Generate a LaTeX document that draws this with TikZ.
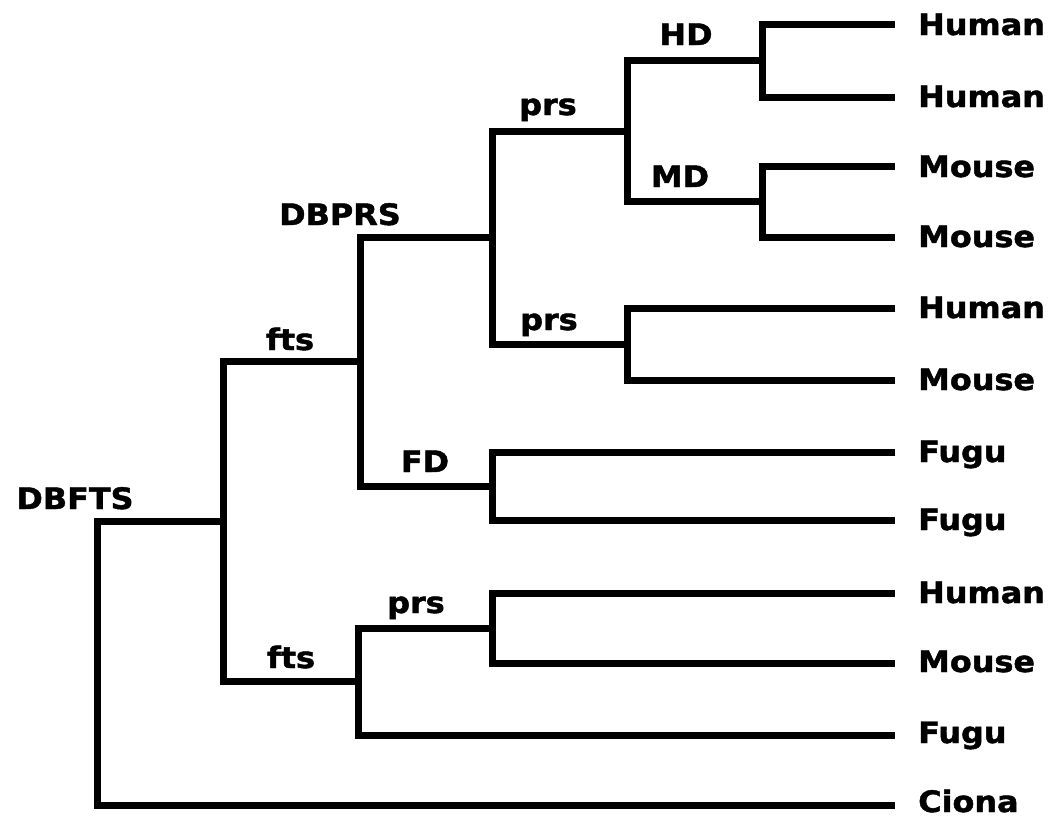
\documentclass[tikz,border=0pt]{standalone}
\usepackage{fontspec}
\setmainfont{DejaVu Sans}[BoldFeatures={FakeBold=1.5}]
\newcommand{\widetxt}[1]{\scalebox{1.08}[1]{#1}}
\begin{document}
\begin{tikzpicture}[x=1pt,y=-1pt,
  branch/.style={line width=7pt, line join=miter, line cap=butt},
  lbl/.style={inner sep=0pt, anchor=base, font=\bfseries\fontsize{29.5}{29.5}\selectfont},
  leaf/.style={inner sep=0pt, anchor=base west, font=\bfseries\fontsize{29.5}{29.5}\selectfont}]
\useasboundingbox (0,0) rectangle (1057,822);
% leaf ends
\coordinate (l1) at (895,24);
\coordinate (l2) at (895,97);
\coordinate (l3) at (895,166);
\coordinate (l4) at (895,237);
\coordinate (l5) at (895,308);
\coordinate (l6) at (895,380);
\coordinate (l7) at (895,452);
\coordinate (l8) at (895,520);
\coordinate (l9) at (895,593);
\coordinate (l10) at (895,663);
\coordinate (l11) at (895,735);
\coordinate (l12) at (895,805);
% internal nodes
\coordinate (hd) at (762,60.5);
\coordinate (md) at (762,201.5);
\coordinate (q) at (627,131);
\coordinate (p2) at (627,344);
\coordinate (p1) at (492,237.5);
\coordinate (fd) at (492,486);
\coordinate (dbprs) at (360,361.75);
\coordinate (p3) at (492,628);
\coordinate (b) at (358,681.5);
\coordinate (a) at (223,521.6);
\coordinate (root) at (97,663);
% branches
\draw[branch] (l1) -| (hd) |- (l2);
\draw[branch] (l3) -| (md) |- (l4);
\draw[branch] (hd) -| (q) |- (md);
\draw[branch] (l5) -| (p2) |- (l6);
\draw[branch] (q) -| (p1) |- (p2);
\draw[branch] (l7) -| (fd) |- (l8);
\draw[branch] (p1) -| (dbprs) |- (fd);
\draw[branch] (l9) -| (p3) |- (l10);
\draw[branch] (p3) -| (b) |- (l11);
\draw[branch] (dbprs) -| (a) |- (b);
\draw[branch] (a) -| (root) |- (l12);
% internal labels
\node[lbl] (tHD) at (686,45) {\widetxt{HD}};
\node[lbl] (tMD) at (680,187) {\widetxt{MD}};
\node[lbl] (tprs1) at (548,115) {\widetxt{prs}};
\node[lbl] (tprs2) at (549,330) {\widetxt{prs}};
\node[lbl] (tDBPRS) at (340,225) {\widetxt{DBPRS}};
\node[lbl] (tfts1) at (290,350) {\widetxt{fts}};
\node[lbl] (tFD) at (425,472) {\widetxt{FD}};
\node[lbl] (tDBFTS) at (75,509) {\widetxt{DBFTS}};
\node[lbl] (tprs3) at (416,613) {\widetxt{prs}};
\node[lbl] (tfts2) at (291,668) {\widetxt{fts}};
% leaf labels
\node[leaf] (n1) at (918,35) {\widetxt{Human}};
\node[leaf] (n2) at (918,107) {\widetxt{Human}};
\node[leaf] (n3) at (918,177) {\widetxt{Mouse}};
\node[leaf] (n4) at (918,247) {\widetxt{Mouse}};
\node[leaf] (n5) at (918,318) {\widetxt{Human}};
\node[leaf] (n6) at (918,390) {\widetxt{Mouse}};
\node[leaf] (n7) at (918,462) {\widetxt{Fugu}};
\node[leaf] (n8) at (918,530) {\widetxt{Fugu}};
\node[leaf] (n9) at (918,603) {\widetxt{Human}};
\node[leaf] (n10) at (918,672) {\widetxt{Mouse}};
\node[leaf] (n11) at (918,743) {\widetxt{Fugu}};
\node[leaf] (n12) at (918,812) {\widetxt{Ciona}};
\end{tikzpicture}
\end{document}
